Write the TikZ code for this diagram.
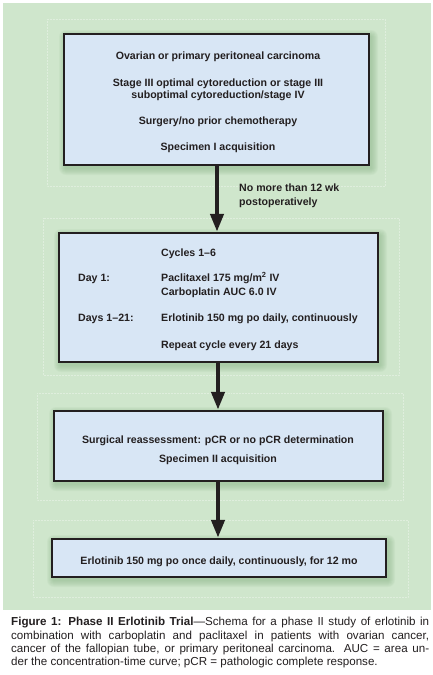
\documentclass[tikz,border=0pt]{standalone}
\usepackage{fontspec}
\setmainfont{Liberation Sans}
\usetikzlibrary{arrows.meta}
\definecolor{bggreen}{HTML}{CFE6CC}
\definecolor{shgreen}{HTML}{8FB88C}
\definecolor{boxblue}{HTML}{D8E6F5}
\definecolor{ink}{HTML}{231F20}
\tikzset{
  stepbox/.style={draw=ink, line width=2.4pt, fill=boxblue, inner sep=0pt},
  txt/.style={font=\fontsize{10.6}{13}\selectfont\bfseries, text=ink, inner sep=0pt},
  ltxt/.style={txt, anchor=base west},
  ctxt/.style={txt, anchor=base},
  arr/.style={draw=ink, line width=4.2pt, -{Triangle[width=13pt,length=18pt]}},
  panel/.style={draw=white, densely dotted, line width=0.5pt, opacity=0.35},
}
\newcommand{\shadowbox}[4]{%
  \foreach \i in {1,...,7}{
    \fill[shgreen, opacity=0.10, rounded corners=\i pt] ({#1+2-\i},{#2+3-\i}) rectangle ({#3+2+\i},{#4+3+\i});
  }%
}
\begin{document}
\begin{tikzpicture}[x=1pt,y=-1pt]
\useasboundingbox (0,0) rectangle (433,675);
\fill[white] (0,0) rectangle (433,675);
\fill[bggreen] (2.5,2.5) rectangle (431,610);
% faint panels
\draw[panel] (47,19) rectangle (385,186);
\draw[panel] (43,218) rectangle (399,375);
\draw[panel] (37,393) rectangle (403,500);
\draw[panel] (33,520) rectangle (408,597);
% shadows
\shadowbox{64}{34}{369}{165}
\shadowbox{59}{233}{378}{362}
\shadowbox{54}{411}{383}{481}
\shadowbox{52}{539}{386}{577}
% boxes
\node[stepbox, minimum width=305pt, minimum height=131pt] (b1) at (216.5,99.5) {};
\node[stepbox, minimum width=319pt, minimum height=129pt] (b2) at (218.5,297.5) {};
\node[stepbox, minimum width=329pt, minimum height=70pt] (b3) at (218.5,446) {};
\node[stepbox, minimum width=334pt, minimum height=38pt] (b4) at (219,558) {};
% box 1 text
\node[ctxt] (t11) at (218,59) {Ovarian or primary peritoneal carcinoma};
\node[ctxt] (t12) at (218,86) {Stage III optimal cytoreduction or stage III};
\node[ctxt] (t13) at (218,98) {suboptimal cytoreduction/stage IV};
\node[ctxt] (t14) at (218,124) {Surgery/no prior chemotherapy};
\node[ctxt] (t15) at (218,150) {Specimen I acquisition};
% box 2 text
\node[ltxt] (t21) at (161,256) {Cycles 1–6};
\node[ltxt] (t22) at (78,281) {Day 1:};
\node[ltxt] (t23) at (161,281) {Paclitaxel 175 mg/m\textsuperscript{2} IV};
\node[ltxt] (t24) at (161,295) {Carboplatin AUC 6.0 IV};
\node[ltxt] (t25) at (78,321) {Days 1–21:};
\node[ltxt] (t26) at (161,321) {Erlotinib 150 mg po daily, continuously};
\node[ltxt] (t27) at (161,348) {Repeat cycle every 21 days};
% box 3 text
\node[ctxt] (t31) at (218,443) {Surgical reassessment: pCR or no pCR determination};
\node[ctxt] (t32) at (218,462) {Specimen II acquisition};
% box 4 text
\node[ctxt] (t41) at (219,564) {Erlotinib 150 mg po once daily, continuously, for 12 mo};
% arrows
\draw[arr] (b1.south -| 217,0) -- (b2.north -| 217,0);
\draw[arr] (b2.south -| 218,0) -- (b3.north -| 218,0);
\draw[arr] (b3.south -| 218,0) -- (b4.north -| 218,0);
\node[txt, anchor=north west, align=left, font=\fontsize{10.6}{13.5}\selectfont\bfseries] (lab) at (239,184) {No more than 12 wk\\postoperatively};
% caption
\node[anchor=north west, inner sep=0pt, text width=418pt, align=justify,
      font=\fontsize{11.6}{13.4}\selectfont, text=ink] (cap) at (11,617)
 {\textbf{Figure 1: Phase II Erlotinib Trial}—Schema for a phase II study of erlotinib in\linebreak
 combination with carboplatin and paclitaxel in patients with ovarian cancer,\linebreak
 cancer of the fallopian tube, or primary peritoneal carcinoma. AUC = area un-\linebreak
 der the concentration-time curve; pCR = pathologic complete response.};
\end{tikzpicture}
\end{document}
